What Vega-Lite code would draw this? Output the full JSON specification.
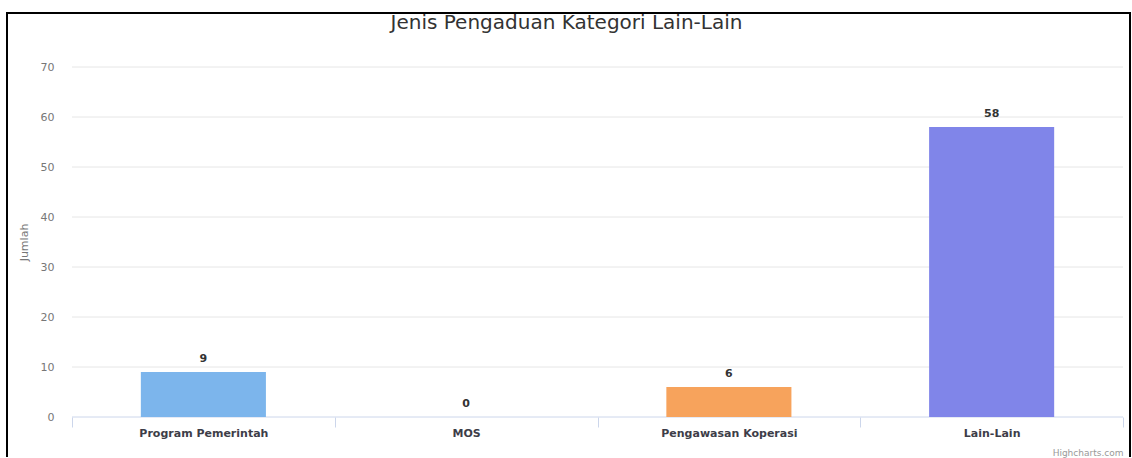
{
  "$schema": "https://vega.github.io/schema/vega-lite/v6.json",
  "width": 1123,
  "height": 444,
  "autosize": {"type": "none"},
  "padding": {"left": 7, "top": 13, "right": 2, "bottom": 1},
  "background": "#ffffff",
  "config": {
    "font": "DejaVu Sans",
    "view": {"stroke": "#000000", "strokeWidth": 2, "strokeDash": [1567, 1123, 444]}
  },
  "title": {
    "text": "Jenis Pengaduan Kategori Lain-Lain",
    "font": "DejaVu Sans",
    "fontSize": 20,
    "fontWeight": "normal",
    "color": "#333333",
    "anchor": "middle",
    "baseline": "alphabetic",
    "offset": -19,
    "dy": 17,
    "dx": -2
  },
  "datasets": {
    "pengaduan": [
      {"kategori": "Program Pemerintah", "jumlah": 9},
      {"kategori": "MOS", "jumlah": 0},
      {"kategori": "Pengawasan Koperasi", "jumlah": 6},
      {"kategori": "Lain-Lain", "jumlah": 58}
    ],
    "garis": [
      {"nilai": 0}, {"nilai": 10}, {"nilai": 20}, {"nilai": 30},
      {"nilai": 40}, {"nilai": 50}, {"nilai": 60}, {"nilai": 70}
    ]
  },
  "layer": [
    {
      "data": {"name": "garis"},
      "mark": {"type": "rule", "strokeWidth": 1},
      "encoding": {
        "y": {"field": "nilai", "type": "quantitative"},
        "x": {"datum": "Program Pemerintah", "bandPosition": 0},
        "x2": {"datum": "Lain-Lain", "bandPosition": 1},
        "color": {
          "condition": {"test": "datum.nilai === 0", "value": "#ccd6eb"},
          "value": "#e6e6e6"
        }
      }
    },
    {
      "data": {"name": "pengaduan"},
      "mark": {"type": "bar", "width": {"band": 0.476}},
      "encoding": {
        "x": {
          "field": "kategori",
          "type": "nominal",
          "sort": null,
          "scale": {
            "type": "band",
            "domain": ["Program Pemerintah", "MOS", "Pengawasan Koperasi", "Lain-Lain"],
            "paddingInner": 0,
            "paddingOuter": 0.137,
            "align": 0.903
          },
          "axis": {
            "orient": "bottom",
            "offset": -40,
            "domain": false,
            "grid": false,
            "ticks": true,
            "tickBand": "extent",
            "tickSize": 10,
            "tickColor": "#ccd6eb",
            "labelAngle": 0,
            "labelAlign": "center",
            "labelBaseline": "top",
            "labelFont": "DejaVu Sans",
            "labelFontSize": 11,
            "labelFontWeight": "bold",
            "labelColor": "#3d3d48",
            "labelPadding": 0,
            "title": "Highcharts.com",
            "titleFont": "DejaVu Sans",
            "titleFontSize": 9,
            "titleFontWeight": "normal",
            "titleColor": "#999999",
            "titleAlign": "right",
            "titleBaseline": "alphabetic",
            "titleX": 1116,
            "titleY": 38
          }
        },
        "y": {
          "field": "jumlah",
          "type": "quantitative",
          "scale": {"domain": [-8, 80.8], "nice": false},
          "axis": {
            "orient": "left",
            "offset": -48,
            "values": [0, 10, 20, 30, 40, 50, 60, 70],
            "domain": false,
            "grid": false,
            "ticks": false,
            "labelFont": "DejaVu Sans",
            "labelFontSize": 11,
            "labelColor": "#777777",
            "labelPadding": 1,
            "title": "Jumlah",
            "titleFont": "DejaVu Sans",
            "titleFontSize": 11,
            "titleFontWeight": "normal",
            "titleColor": "#777777",
            "titleAlign": "center",
            "titleBaseline": "middle",
            "titleX": -31,
            "titleY": 229
          }
        },
        "color": {
          "field": "kategori",
          "type": "nominal",
          "scale": {
            "domain": ["Program Pemerintah", "MOS", "Pengawasan Koperasi", "Lain-Lain"],
            "range": ["#7cb5ec", "#434348", "#f7a35c", "#8085e9"]
          },
          "legend": null
        }
      }
    },
    {
      "data": {"name": "pengaduan"},
      "mark": {
        "type": "text",
        "baseline": "alphabetic",
        "dy": -10,
        "fontSize": 11,
        "fontWeight": "bold",
        "color": "#333333"
      },
      "encoding": {
        "x": {"field": "kategori", "type": "nominal", "sort": null},
        "y": {"field": "jumlah", "type": "quantitative"},
        "text": {"field": "jumlah", "type": "quantitative"}
      }
    }
  ]
}
